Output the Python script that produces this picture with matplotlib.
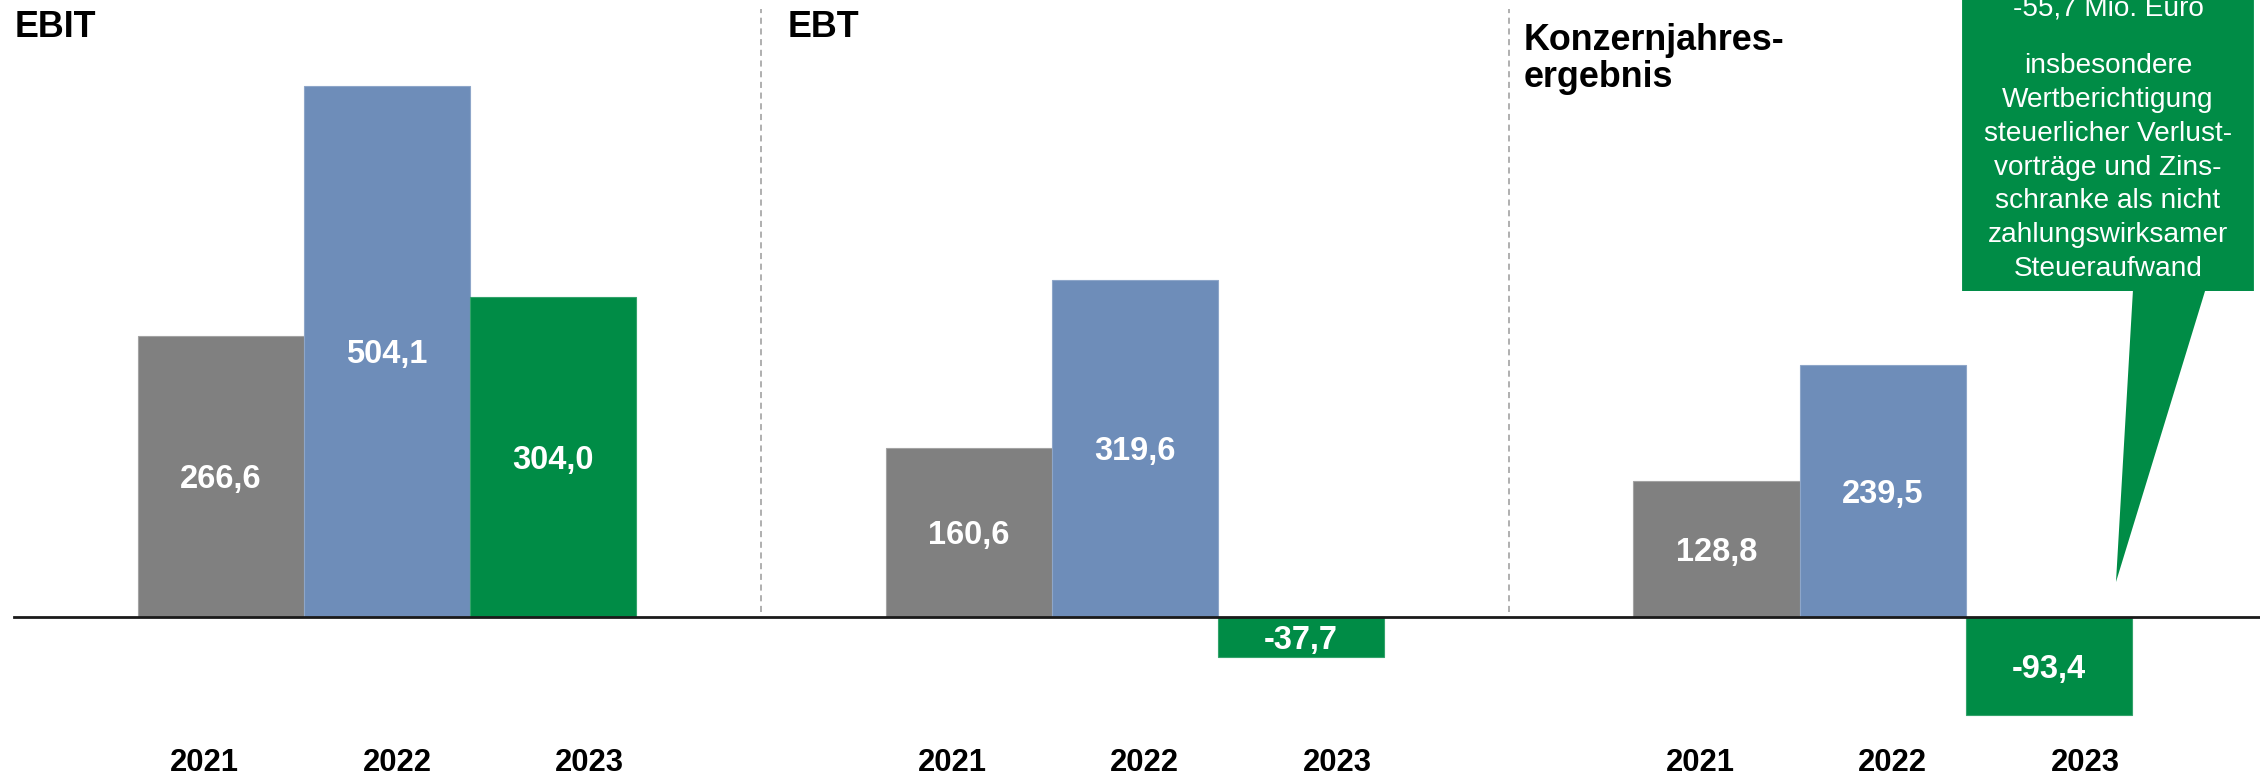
import numpy as np
import matplotlib
matplotlib.use("Agg")
import matplotlib.pyplot as plt
from matplotlib.patches import Polygon

plt.rcParams['font.family'] = ['Liberation Sans', 'DejaVu Sans']

# ----------------------------
# Kennzahlen in Mio. Euro
# ----------------------------
panels = [['EBIT'], ['EBT'], ['Konzernjahres-', 'ergebnis']]
years = ['2021', '2022', '2023']
ebit = [266.6, 504.1, 304.0]
ebt = [160.6, 319.6, -37.7]
konzern = [128.8, 239.5, -93.4]
values = [ebit, ebt, konzern]

callout_head = '-55,7 Mio. Euro'
callout_lines = ['insbesondere', 'Wertberichtigung', 'steuerlicher Verlust-',
                 'vorträge und Zins-', 'schranke als nicht',
                 'zahlungswirksamer', 'Steueraufwand']

# ----------------------------
# Style
# ----------------------------
bar_colors = ['#808080', '#6E8DB9', '#008C46']
edge_colors = ['#A3A3A3', '#8EA6C9', '#33A36B']
green = '#008C46'

W, H, DPI = 2260, 777, 100
bar_w = 1.0
group_gap = 4.5          # distance between panel centres, in bar widths
label_gap = 1.16         # year labels are spread a bit wider than the bars
label_shift = 0.06

fig = plt.figure(figsize=(W / DPI, H / DPI), dpi=DPI)
ax = fig.add_axes([0, 0, 1, 1])
ax.set_xlim(-2.3285, 11.2696)
ax.set_ylim(-151.95, 585.95)
ax.axis('off')

for g, vals in enumerate(values):
    centre = g * group_gap
    xs = centre + (np.arange(len(vals)) - 1) * bar_w
    ax.bar(xs, vals, width=bar_w, color=bar_colors,
           edgecolor=edge_colors, linewidth=0.8, zorder=2)
    for x, v in zip(xs, vals):
        ax.text(x, v / 2 - 11.1, f'{v:.1f}'.replace('.', ','),
                ha='center', va='baseline', color='white',
                fontsize=23.5, fontweight='bold', zorder=4)
    for i, yr in enumerate(years):
        ax.text(centre + label_shift + (i - 1) * label_gap, -146.2, yr,
                ha='center', va='baseline', fontsize=22.3,
                fontweight='bold', color='black')

# panel titles
title_x = [-2.24, 2.41, 6.84]
title_y = [550.8, 550.8, 538.5]
title_step = 35.0
for tx, ty, lines in zip(title_x, title_y, panels):
    for k, line in enumerate(lines):
        ax.text(tx, ty - k * title_step, line, ha='left', va='baseline',
                fontsize=25.8, fontweight='bold', color='black')

# dashed separators between the panels
for g in range(len(values) - 1):
    ax.vlines((g + 0.5) * group_gap, 5, 577, colors='#9A9A9A',
              linestyles=(0, (4, 3)), linewidth=1.1, zorder=1)

# zero line
ax.axhline(0, xmin=0.006, xmax=1, color='#1A1A1A', linewidth=2.0, zorder=3)

# speech-bubble callout pointing at the 2023 Konzernjahresergebnis
box_l, box_r, box_b, box_t = 9.477, 11.233, 309.6, 700
tail = [(10.505, box_b), (10.403, 33.2), (10.939, box_b)]
bubble = Polygon([(box_l, box_b)] + tail +
                 [(box_r, box_b), (box_r, box_t), (box_l, box_t)],
                 closed=True, facecolor=green, edgecolor='none', zorder=5)
ax.add_patch(bubble)

cx = 10.355
ax.text(cx, 570.8, callout_head, ha='center', va='baseline',
        fontsize=20.2, color='white', zorder=6)
for k, line in enumerate(callout_lines):
    ax.text(cx, 516.6 - k * 32.13, line, ha='center', va='baseline',
            fontsize=20.2, color='white', zorder=6)

fig.savefig('out.png', dpi=DPI)
